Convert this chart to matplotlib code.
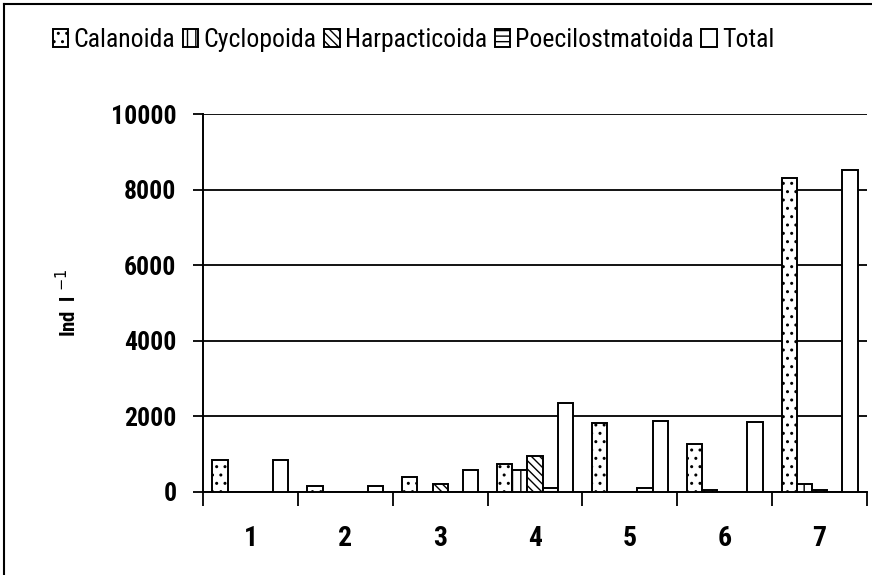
import matplotlib
matplotlib.use("Agg")
from matplotlib import pyplot as plt
from matplotlib import font_manager
from matplotlib.lines import Line2D
import numpy as np

#pick a narrow font if one is installed, the original uses a condensed face
installed = set(f.name for f in font_manager.fontManager.ttflist)
narrow = [n for n in ["Roboto Condensed", "Liberation Sans Narrow", "DejaVu Sans Condensed"]
          if n in installed]
plt.rcParams['font.family'] = narrow + ['Liberation Sans', 'DejaVu Sans']
plt.rcParams['hatch.linewidth'] = 1.0
scale = 1.0 if narrow else 0.8

#stations along the x axis
stations = ["1", "2", "3", "4", "5", "6", "7"]
#abundance of each group per station (Ind l-1)
calanoida = [830, 160, 390, 745, 1810, 1260, 8300]
cyclopoida = [0, 0, 0, 585, 0, 35, 200]
harpacticoida = [0, 0, 195, 940, 0, 0, 45]
poecilostmatoida = [0, 0, 0, 90, 90, 0, 0]
total = [830, 160, 585, 2340, 1880, 1850, 8520]

series = [calanoida, cyclopoida, harpacticoida, poecilostmatoida, total]
names = ["Calanoida", "Cyclopoida", "Harpacticoida", "Poecilostmatoida", "Total"]
hatches = ["..", "||", "\\\\\\\\", "---", ""]

fig = plt.figure(figsize=(8.72, 5.75), dpi=100)
ax = fig.add_axes([203/872, 1 - 491.7/575, 664/872, 377.7/575])

width = 0.16
centers = np.arange(len(stations)) + 0.5
handles = []
for i, (vals, name, h) in enumerate(zip(series, names, hatches)):
    bars = ax.bar(centers + (i - 2) * width, vals, width, color="white",
                  edgecolor="black", linewidth=1.4, hatch=h, label=name, zorder=3)
    handles.append(bars)

ax.set_ylim(0, 10000)
ax.set_xlim(0, len(stations))
ax.set_yticks(np.arange(0, 10001, 2000))
ax.yaxis.grid(True, color="black", linewidth=1.3, zorder=0)

#ticks at the category borders, labels at the centers
ax.set_xticks(np.arange(0, len(stations) + 1))
ax.set_xticklabels([])
ax.set_xticks(centers, minor=True)
ax.set_xticklabels(stations, minor=True)
ax.tick_params(axis="x", which="major", length=10, width=1.3, direction="out")
ax.tick_params(axis="x", which="minor", length=0, pad=24, labelsize=20 * scale)
ax.tick_params(axis="y", length=7, width=1.3, direction="out", pad=12, labelsize=18.5 * scale)
for lab in ax.get_yticklabels() + ax.get_xticklabels(minor=True):
    lab.set_fontweight("bold")

for side in ["top", "right"]:
    ax.spines[side].set_visible(False)
for side in ["left", "bottom"]:
    ax.spines[side].set_linewidth(1.4)

ax.set_ylabel("Ind  l $^{-1}$", fontsize=15, fontweight="bold")
ax.yaxis.set_label_coords(-0.185, 0.5)

fig.legend(handles=handles, loc="center left", bbox_to_anchor=(53/872, 1 - 40/575),
           ncol=5, frameon=False, fontsize=18.5 * scale, handlelength=0.6,
           handleheight=0.75, handletextpad=0.2, columnspacing=0.3,
           borderaxespad=0, borderpad=0)

#outer frame of the chart area (top and left edges)
fig.add_artist(Line2D([4/872, 4/872], [0, 1 - 4/575], color="black", linewidth=1.5))
fig.add_artist(Line2D([4/872, 1], [1 - 4/575, 1 - 4/575], color="black", linewidth=1.5))

fig.savefig("out.png", dpi=100)
